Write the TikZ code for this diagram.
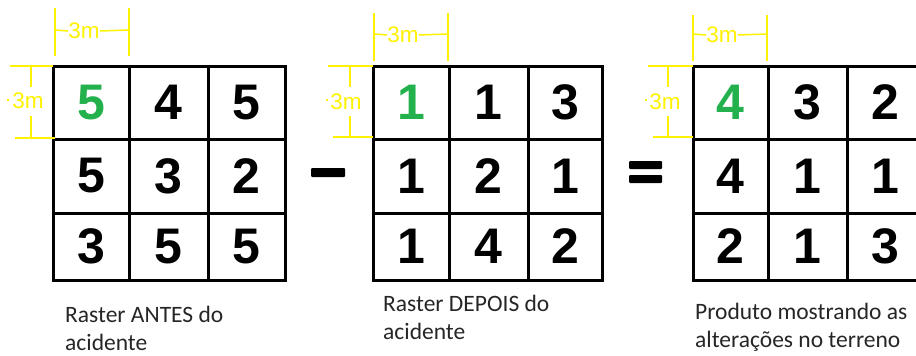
\documentclass[tikz,border=0pt]{standalone}
\usepackage{fontspec}
\setmainfont{Liberation Sans}
\newfontfamily\capfont{Carlito}
\definecolor{dimyel}{RGB}{255,242,0}
\definecolor{valgreen}{RGB}{34,177,76}
\tikzset{
  gridline/.style={line width=3pt, line cap=rect, black},
  val/.style={font=\fontsize{50}{50}\selectfont\bfseries, inner sep=0pt},
  greenval/.style={val, text=valgreen},
  dimline/.style={dimyel, line width=1.5pt},
  dimtext/.style={dimyel, font=\fontsize{22.5}{22.5}\selectfont, inner sep=0pt},
  caption/.style={font=\capfont\fontsize{23.5}{28}\selectfont, align=left, inner sep=0pt, anchor=base west, text=black!85},
  opbar/.style={fill=black, rounded corners=1pt},
}
\begin{document}
\begin{tikzpicture}[x=1pt,y=-1pt]
\useasboundingbox (0,0) rectangle (916,356);
\clip (0,0) rectangle (916,356);
% ---------- grids ----------
% grid 1
\draw[gridline] (53,66) rectangle (285,280);
\draw[gridline] (129,66) -- (129,280) (208,66) -- (208,280)
                (53,139) -- (285,139) (53,213) -- (285,213);
% grid 2
\draw[gridline] (373,66) rectangle (602,280);
\draw[gridline] (449,66) -- (449,280) (528,66) -- (528,280)
                (373,139) -- (602,139) (373,213) -- (602,213);
% grid 3
\draw[gridline] (693,66) rectangle (924,280);
\draw[gridline] (768,66) -- (768,280) (847,66) -- (847,280)
                (693,139) -- (924,139) (693,213) -- (924,213);
% ---------- values ----------
\node[greenval] (a11) at (91,102.5) {5};
\node[val] (a12) at (168.5,102.5) {4};
\node[val] (a13) at (246.5,102.5) {5};
\node[val] (a21) at (91,176) {5};
\node[val] (a22) at (168.5,176) {3};
\node[val] (a23) at (246.5,176) {2};
\node[val] (a31) at (91,246.5) {3};
\node[val] (a32) at (168.5,246.5) {5};
\node[val] (a33) at (246.5,246.5) {5};
\node[greenval] (b11) at (411,102.5) {1};
\node[val] (b12) at (488.5,102.5) {1};
\node[val] (b13) at (565,102.5) {3};
\node[val] (b21) at (411,176) {1};
\node[val] (b22) at (488.5,176) {2};
\node[val] (b23) at (565,176) {1};
\node[val] (b31) at (411,246.5) {1};
\node[val] (b32) at (488.5,246.5) {4};
\node[val] (b33) at (565,246.5) {2};
\node[greenval] (c11) at (730.5,102.5) {4};
\node[val] (c12) at (807.5,102.5) {3};
\node[val] (c13) at (885.5,102.5) {2};
\node[val] (c21) at (730.5,176) {4};
\node[val] (c22) at (807.5,176) {1};
\node[val] (c23) at (885.5,176) {1};
\node[val] (c31) at (730.5,246.5) {2};
\node[val] (c32) at (807.5,246.5) {1};
\node[val] (c33) at (885.5,246.5) {3};
% ---------- operators ----------
\fill[opbar] (311,168) rectangle (345,177);
\fill[opbar] (629,161) rectangle (662,169);
\fill[opbar] (629,175) rectangle (662,183);
% ---------- dimensions ----------
% grid 1 top
\draw[dimline] (55,8) -- (55,56) (129,8) -- (129,56);
\node[dimtext] (d1t) at (84,31) {3m};
\draw[dimline] (55,30) -- (d1t.west) (d1t.east) -- (129,30);
% grid 1 left
\draw[dimline] (10,66) -- (53,66) (15,138) -- (55,138);
\node[dimtext] (d1l) at (28,101) {3m};
\draw[dimline] (31,66) -- (31,87) (31,116) -- (31,138);
\draw[dimline] (6.5,100) -- (8.5,100);
% grid 2 top
\draw[dimline] (374,13) -- (374,61) (448,13) -- (448,61);
\node[dimtext] (d2t) at (403,35) {3m};
\draw[dimline] (374,34) -- (d2t.west) (d2t.east) -- (448,34);
% grid 2 left
\draw[dimline] (328,66) -- (373,66) (333,137) -- (373,137);
\node[dimtext] (d2l) at (346,102) {3m};
\draw[dimline] (350,66) -- (350,87) (350,116) -- (350,137);
\draw[dimline] (325.5,100) -- (327.5,100);
% grid 3 top
\draw[dimline] (693,15) -- (693,61) (767,15) -- (767,61);
\node[dimtext] (d3t) at (722,35) {3m};
\draw[dimline] (693,34) -- (d3t.west) (d3t.east) -- (767,34);
% grid 3 left
\draw[dimline] (648,66) -- (693,66) (653,137) -- (693,137);
\node[dimtext] (d3l) at (665,102) {3m};
\draw[dimline] (668,66) -- (668,87) (668,116) -- (668,137);
\draw[dimline] (644.5,100) -- (646.5,100);
% ---------- captions ----------
\node[caption] (cap1) at (65,350) {Raster ANTES do\\acidente};
\node[caption] (cap2) at (383,339) {Raster DEPOIS do\\acidente};
\node[caption] (cap3) at (695,347) {Produto mostrando as\\alterações no terreno};
\end{tikzpicture}
\end{document}
